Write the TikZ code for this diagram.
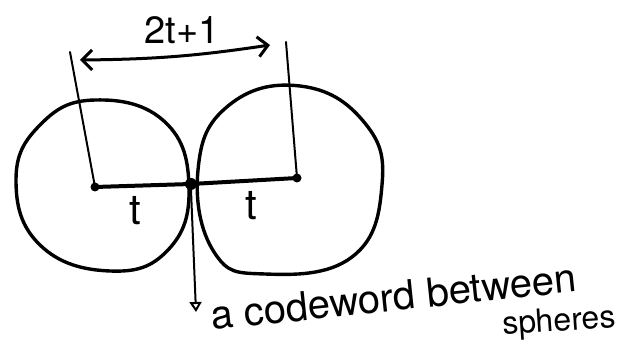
\documentclass[tikz,border=0pt]{standalone}
\usepackage{fontspec}
\setmainfont{TeX Gyre Heros}
\usetikzlibrary{arrows.meta}
\begin{document}
\begin{tikzpicture}[x=1pt,y=-1pt,
  pen/.style={line width=3.4pt,line cap=round,line join=round},
  thin pen/.style={line width=2pt,line cap=round},
  dotnode/.style={circle,fill=black,inner sep=0pt,minimum size=12pt},
  lbl/.style={font=\fontsize{38}{44}\selectfont,inner sep=0pt},
  tlbl/.style={font=\fontsize{42}{48}\selectfont,inner sep=0pt}]
\useasboundingbox (0,0) rectangle (624,347);
% spheres
\draw[pen] plot[smooth cycle,tension=0.75] coordinates {(95,100) (40,125) (16,180) (40,245) (110,271) (168,250) (189,188) (165,122)};
\draw[pen] plot[smooth cycle,tension=0.75] coordinates {(300,86) (228,106) (198,170) (214,252) (265,274) (352,257) (382,185) (364,122)};
% centres and touch point
\coordinate (cl) at (95,187);
\coordinate (cr) at (297,178);
\node[dotnode] (touch) at (191,184) {};
\node[dotnode,minimum size=9pt] (dl) at (cl) {};
\node[dotnode,minimum size=9pt] (dr) at (cr) {};
% radii
\draw[pen,line width=4pt] (dl.center) -- (touch.center) -- (dr.center);
% vertical guides
\coordinate (tl) at (70,52);
\coordinate (tr) at (286,42);
\draw[thin pen] (tl) -- (dl.center);
\draw[thin pen] (tr) -- (dr.center);
% distance arrow
\coordinate (al) at (80,60);
\coordinate (ar) at (270,45);
\draw[pen,line width=3pt,{Straight Barb[length=10pt,width=20pt]}-{Straight Barb[length=10pt,width=20pt]}] (al) to[bend right=4] (ar);
\node[lbl] (dist) at (182,30) {2t+1};
\node[tlbl] (t1) at (135,211) {t};
\node[tlbl] (t2) at (251,206) {t};
% codeword arrow
\coordinate (cw) at (196,312);
\draw[thin pen,-{Triangle[open,length=10pt,width=12pt]}] (touch.south) -- (cw);
\node[lbl,font=\fontsize{40}{46}\selectfont,anchor=base west,rotate=6] (txt) at (212,330) {a codeword between};
\node[lbl,font=\fontsize{32}{36}\selectfont,anchor=base west,rotate=4] (sph) at (503,335) {spheres};
\end{tikzpicture}
\end{document}
